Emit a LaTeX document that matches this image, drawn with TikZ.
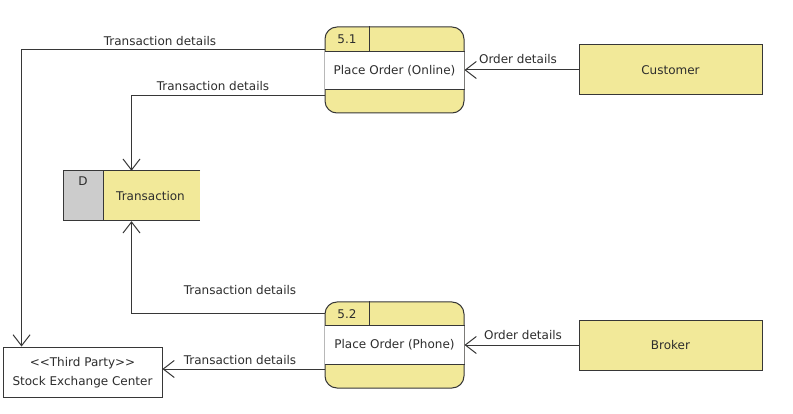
\documentclass[tikz,border=0pt]{standalone}
\usepackage{fontspec}
\setmainfont{DejaVu Sans}[Ligatures=TeXOff]
\usetikzlibrary{arrows.meta,calc}
\definecolor{dfdyellow}{RGB}{242,233,153}
\definecolor{dfdgray}{RGB}{204,204,204}
\definecolor{dfdline}{RGB}{55,55,55}
\definecolor{dfdtext}{RGB}{45,45,45}
\tikzset{
  txt/.style={font=\fontsize{12}{14}\selectfont, text=dfdtext, inner sep=0pt},
  procbox/.style={draw=dfdline, line width=1pt, fill=dfdyellow, rounded corners=12pt,
    minimum width=139pt, minimum height=86pt, inner sep=0pt},
  entbox/.style={draw=dfdline, line width=1pt, fill=dfdyellow,
    minimum width=183pt, minimum height=50pt, inner sep=0pt, txt},
  thirdbox/.style={draw=dfdline, line width=0.9pt, fill=white,
    minimum width=159pt, minimum height=50pt, inner sep=0pt},
  edge/.style={draw=dfdline, line width=1pt},
  flow/.style={draw=dfdline, line width=1pt,
    -{Straight Barb[length=11pt,width=17pt,line width=1pt]}},
  flowlabel/.style={txt}
}
\begin{document}
\begin{tikzpicture}[x=1pt,y=-1pt]
\useasboundingbox[fill=white] (0,0) rectangle (793,414);

% processes
\node[procbox] (p1) at (394.5,70) {};
\fill[white] ($(p1.north west)+(0.5,25)$) rectangle ($(p1.south east)+(-0.5,-24)$);
\draw[edge] ($(p1.north west)+(0,25)$) -- ($(p1.north east)+(0,25)$);
\draw[edge] ($(p1.south west)+(0,-24)$) -- ($(p1.south east)+(0,-24)$);
\draw[edge] ($(p1.north west)+(45,0)$) -- ($(p1.north west)+(45,25)$);
\node[txt] (p1id) at (347,39.5) {5.1};
\node[txt] (p1name) at (394.5,71) {Place Order (Online)};

\node[procbox] (p2) at (394.5,345) {};
\fill[white] ($(p2.north west)+(0.5,24)$) rectangle ($(p2.south east)+(-0.5,-24)$);
\draw[edge] ($(p2.north west)+(0,24)$) -- ($(p2.north east)+(0,24)$);
\draw[edge] ($(p2.south west)+(0,-24)$) -- ($(p2.south east)+(0,-24)$);
\draw[edge] ($(p2.north west)+(45,0)$) -- ($(p2.north west)+(45,24)$);
\node[txt] (p2id) at (347,314) {5.2};
\node[txt] (p2name) at (394.5,345) {Place Order (Phone)};

% external entities
\node[entbox] (cust) at (670.5,70) {Customer};
\node[entbox] (brok) at (670.5,345) {Broker};

% data store
\node[minimum width=137pt, minimum height=50pt, inner sep=0pt] (ds) at (131.5,196) {};
\fill[dfdyellow] (103,171) rectangle (200,221);
\fill[dfdgray] (63,171) rectangle (103,221);
\draw[edge] (200,171) -- (63,171) -- (63,221) -- (200,221);
\draw[edge] (103,171) -- (103,221);
\node[txt] (dsid) at (83,181) {D};
\node[txt] (dsname) at (150.5,196) {Transaction};

% third party
\node[thirdbox] (sec) at (82.5,372) {};
\node[txt] (sec1) at (82.5,363) {<<Third Party>>};
\node[txt] (sec2) at (82.5,382) {Stock Exchange Center};

% flows
\draw[flow] (p1.west |- 0,49.5) -| ($(sec.north west)+(19,0)$);
\node[flowlabel] (l1) at (160,41) {Transaction details};
\draw[flow] (p1.west |- 0,96) -| (ds.north);
\node[flowlabel] (l2) at (213,86) {Transaction details};
\draw[flow] (p2.west |- 0,314) -| (ds.south);
\node[flowlabel] (l3) at (240,290) {Transaction details};
\draw[flow] (p2.west |- 0,369) -- (sec.east |- 0,369);
\node[flowlabel] (l4) at (240,360) {Transaction details};
\draw[flow] (cust.west) -- (p1.east);
\node[flowlabel] (l5) at (518,59.5) {Order details};
\draw[flow] (brok.west) -- (p2.east);
\node[flowlabel] (l6) at (523,335.5) {Order details};
\end{tikzpicture}
\end{document}
